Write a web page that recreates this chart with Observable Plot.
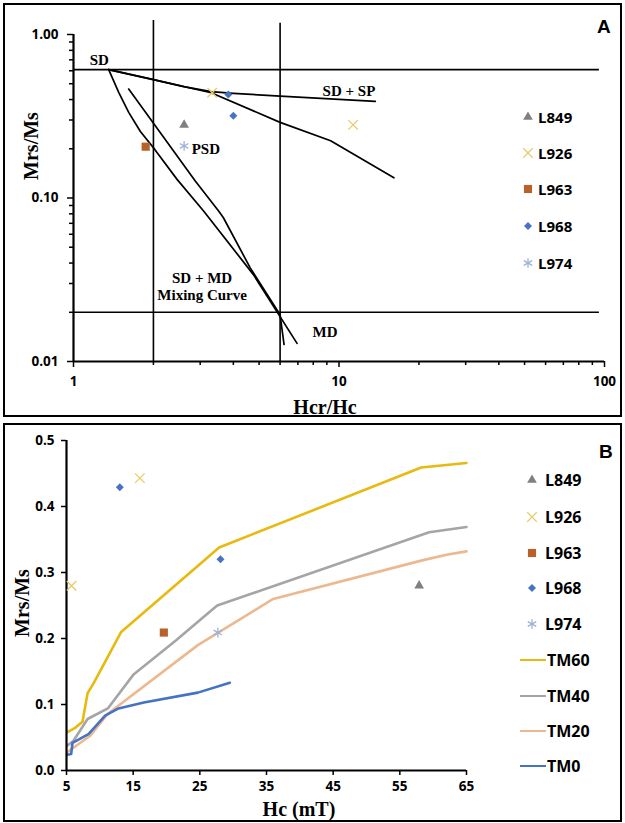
<!DOCTYPE html>
<html>
<head>
<meta charset="utf-8">
<script src="https://cdn.jsdelivr.net/npm/d3@7"></script>
<script src="https://cdn.jsdelivr.net/npm/@observablehq/plot@0.6"></script>
<style>
  body { margin: 0; background: #fff; }
  #wrap { position: relative; width: 625px; height: 823px; overflow: hidden; font-family: "Open Sans", sans-serif; }
  #wrap svg.plot { position: absolute; left: 0; }
  .box { position: absolute; border: 2.5px solid #000; box-sizing: border-box; pointer-events: none; }
  .abs { position: absolute; white-space: nowrap; line-height: 1; }
  .title { font-family: "Liberation Serif", "Times New Roman", serif; font-weight: bold; font-size: 20px; }
  .letter { font-family: "Liberation Sans", Arial, sans-serif; font-weight: bold; font-size: 19px; }
  .legtxt { position: absolute; font-family: "Open Sans", sans-serif; font-weight: 700; font-size: 15px; line-height: 1; white-space: nowrap; }
  .legsym { position: absolute; overflow: visible; }
</style>
</head>
<body>
<div id="wrap"></div>
<script>
// ---------- DATA ----------
const samples = ["L849", "L926", "L963", "L968", "L974"];
const sampleColors = ["#808080", "#e8ca6c", "#b8622a", "#4a72c4", "#9db3d8"];
const sampleSymbols = ["triangle", "times", "square", "diamond2", "asterisk"];

// Panel A: Day plot (Hcr/Hc vs Mrs/Ms)
const dayPoints = [
  {sample: "L849", hcrhc: 2.61, mrsms: 0.28},
  {sample: "L926", hcrhc: 3.33, mrsms: 0.44},
  {sample: "L926", hcrhc: 11.3, mrsms: 0.28},
  {sample: "L963", hcrhc: 1.87, mrsms: 0.206},
  {sample: "L968", hcrhc: 3.83, mrsms: 0.43},
  {sample: "L968", hcrhc: 4.0, mrsms: 0.318},
  {sample: "L974", hcrhc: 2.61, mrsms: 0.208}
];
const sdSpUpper = [[1.357, 0.61], [2.0, 0.53], [2.6, 0.48], [3.3, 0.447], [4.0, 0.437], [6.0, 0.42], [13.7, 0.39]];
const sdSpLower = [[1.357, 0.61], [2.0, 0.53], [3.3, 0.44], [6.0, 0.29], [9.3, 0.224], [16.1, 0.133]];
const mixCurve1 = [[1.357, 0.61], [1.48, 0.443], [1.614, 0.334], [1.786, 0.255], [2.02, 0.199], [2.455, 0.130], [3.09, 0.0832], [4.76, 0.034], [6.95, 0.0129]];
const mixCurve2 = [[1.614, 0.464], [2.875, 0.127], [3.52, 0.0832], [3.67, 0.0757], [4.63, 0.0374], [6.0, 0.0193], [6.21, 0.0127]];
const hLines = [{y: 0.61, xEnd: 95.7}, {y: 0.02, xEnd: 95.7}];
const vLines = [{x: 2, yTop: 1.22}, {x: 6, yTop: 1.17}];
const dayLabels = [
  {text: "SD", x: 1.25, y: 0.70},
  {text: "SD + SP", x: 10.9, y: 0.453},
  {text: "PSD", x: 3.15, y: 0.2},
  {text: "SD + MD\nMixing Curve", x: 3.05, y: 0.029},
  {text: "MD", x: 8.86, y: 0.0153}
];
const xTicksA = [1, 10, 100];
const xMinorA = [2, 3, 4, 5, 6, 7, 8, 9, 20, 30, 40, 50, 60, 70, 80, 90];
const yTicksA = [0.01, 0.1, 1];
const yMinorA = [0.02, 0.03, 0.04, 0.05, 0.06, 0.07, 0.08, 0.09, 0.2, 0.3, 0.4, 0.5, 0.6, 0.7, 0.8, 0.9];

// Panel B: Hc vs Mrs/Ms with TM curves
const hystPoints = [
  {sample: "L849", hc: 57.9, mrsms: 0.28},
  {sample: "L926", hc: 5.75, mrsms: 0.28},
  {sample: "L926", hc: 16.0, mrsms: 0.443},
  {sample: "L963", hc: 19.6, mrsms: 0.209},
  {sample: "L968", hc: 13.0, mrsms: 0.429},
  {sample: "L968", hc: 28.1, mrsms: 0.32},
  {sample: "L974", hc: 27.7, mrsms: 0.209}
];
const tmNames = ["TM60", "TM40", "TM20", "TM0"];
const tmColors = ["#e8b90f", "#a5a5a5", "#ecb88f", "#4472c4"];
const tm60 = [[5.15, 0.058], [6.35, 0.065], [7.4, 0.074], [8.16, 0.117], [9.06, 0.132], [13.2, 0.21], [27.9, 0.338], [58.2, 0.459], [65, 0.466]];
const tm40 = [[5.15, 0.038], [6.05, 0.045], [8.16, 0.078], [11.2, 0.094], [15.1, 0.146], [21.4, 0.197], [27.6, 0.25], [59.4, 0.361], [65, 0.369]];
const tm20 = [[5.15, 0.028], [8.6, 0.053], [11.2, 0.086], [24.7, 0.19], [36, 0.26], [58.2, 0.318], [62, 0.327], [65, 0.332]];
const tm0 = [[5.1, 0.024], [5.7, 0.025], [5.9, 0.042], [8.3, 0.055], [10.8, 0.083], [12.8, 0.094], [16.6, 0.103], [24.7, 0.118], [29.5, 0.133]];
const tmSeries = [tm60, tm40, tm20, tm0];
const xTicksB = [5, 15, 25, 35, 45, 55, 65];
const yTicksB = [0, 0.1, 0.2, 0.3, 0.4, 0.5];

// ---------- HELPERS ----------
const symbolSizes = {triangle: 3.6, times: 4.4, square: 4.6, diamond2: 3.6, asterisk: 4.6};
const strokeOnly = new Set(["times", "asterisk"]);
const d3Sym = {triangle: d3.symbolTriangle, times: d3.symbolTimes, square: d3.symbolSquare, diamond2: d3.symbolDiamond2, asterisk: d3.symbolAsterisk};

function dotMarks(data, xKey) {
  return samples.map((s, i) => {
    const sym = sampleSymbols[i];
    const opts = {x: xKey, y: "mrsms", symbol: sym, r: symbolSizes[sym]};
    if (strokeOnly.has(sym)) { opts.stroke = sampleColors[i]; opts.strokeWidth = 1.3; opts.fill = "none"; }
    else { opts.fill = sampleColors[i]; opts.stroke = "none"; }
    return Plot.dot(data.filter(d => d.sample === s), opts);
  });
}
const tickFont = {fontFamily: "Open Sans, sans-serif", fontWeight: 700, fontSize: 13.5, color: "#000"};

const wrap = document.getElementById("wrap");

// ---------- PANEL A ----------
const plotA = Plot.plot({
  width: 625, height: 400,
  marginLeft: 73, marginRight: 21, marginTop: 34, marginBottom: 39,
  x: {type: "log", domain: [1, 100], label: null},
  y: {type: "log", domain: [0.01, 1], label: null},
  style: {background: "transparent", overflow: "visible"},
  marks: [
    Plot.axisX(xMinorA, {tickSize: 4, tickFormat: () => "", strokeWidth: 1.5, label: null}),
    Plot.axisX(xTicksA, {tickSize: 6, tickPadding: 9, tickFormat: d => String(d), strokeWidth: 1.5, label: null, ...tickFont}),
    Plot.axisY(yMinorA, {tickSize: 4, tickFormat: () => "", strokeWidth: 1.5, label: null}),
    Plot.axisY(yTicksA, {tickSize: 6, tickPadding: 9, tickFormat: d => d.toFixed(2), strokeWidth: 1.5, label: null, ...tickFont}),
    Plot.ruleY(hLines, {y: "y", x1: () => 1, x2: "xEnd", stroke: "#000", strokeWidth: 1.6}),
    Plot.ruleX(vLines, {x: "x", y1: () => 0.01, y2: "yTop", stroke: "#000", strokeWidth: 1.6}),
    Plot.line(sdSpUpper, {stroke: "#000", strokeWidth: 1.7}),
    Plot.line(sdSpLower, {stroke: "#000", strokeWidth: 1.7}),
    Plot.line(mixCurve1, {stroke: "#000", strokeWidth: 1.7}),
    Plot.line(mixCurve2, {stroke: "#000", strokeWidth: 1.7}),
    Plot.ruleX([1], {stroke: "#000", strokeWidth: 2.2}),
    Plot.ruleY([0.01], {stroke: "#000", strokeWidth: 2.2}),
    ...dotMarks(dayPoints, "hcrhc"),
    Plot.text(dayLabels, {x: "x", y: "y", text: "text", fontFamily: "Liberation Serif, Times New Roman, serif", fontWeight: 700, fontSize: 15, lineHeight: 1.12, fill: "#000"})
  ]
});
plotA.classList.add("plot");
plotA.style.top = "0px";
wrap.appendChild(plotA);

// ---------- PANEL B ----------
const plotB = Plot.plot({
  width: 625, height: 399,
  marginLeft: 66, marginRight: 159, marginTop: 16, marginBottom: 53,
  x: {type: "linear", domain: [5, 65], label: null},
  y: {type: "linear", domain: [0, 0.5], label: null},
  style: {background: "transparent", overflow: "visible"},
  marks: [
    Plot.axisX(xTicksB, {tickSize: 5, tickPadding: 6, tickFormat: d => String(d), strokeWidth: 1.5, label: null, ...tickFont}),
    Plot.axisY(yTicksB, {tickSize: 5, tickPadding: 7, tickFormat: d => d.toFixed(1), strokeWidth: 1.5, label: null, ...tickFont}),
    ...tmSeries.map((s, i) => Plot.line(s, {stroke: tmColors[i], strokeWidth: 2.6})),
    Plot.ruleX([5], {stroke: "#000", strokeWidth: 2.2}),
    Plot.ruleY([0], {stroke: "#000", strokeWidth: 2.2}),
    ...dotMarks(hystPoints, "hc")
  ]
});
plotB.classList.add("plot");
plotB.style.top = "424px";
wrap.appendChild(plotB);

// ---------- BOXES, TITLES ----------
function addEl(cls, html, css) {
  const el = document.createElement("div");
  el.className = cls;
  el.innerHTML = html;
  Object.assign(el.style, css);
  wrap.appendChild(el);
  return el;
}
addEl("box", "", {left: "3px", top: "3px", width: "619px", height: "414px"});
addEl("box", "", {left: "3px", top: "423px", width: "619px", height: "399px"});
addEl("abs letter", "A", {left: "597px", top: "17px"});
addEl("abs letter", "B", {left: "599px", top: "442px"});
// axis titles
addEl("abs title", "Hcr/Hc", {left: "325px", top: "407px", transform: "translate(-50%,-50%)"});
addEl("abs title", "Hc (mT)", {left: "299px", top: "809px", transform: "translate(-50%,-50%)"});
addEl("abs title", "Mrs/Ms", {left: "31px", top: "146px", transform: "translate(-50%,-50%) rotate(-90deg)"});
addEl("abs title", "Mrs/Ms", {left: "22px", top: "603px", transform: "translate(-50%,-50%) rotate(-90deg)"});

// ---------- LEGENDS ----------
function symbolSwatch(sym, color, cx, cy) {
  const ns = "http://www.w3.org/2000/svg";
  const svg = document.createElementNS(ns, "svg");
  svg.setAttribute("class", "legsym");
  svg.setAttribute("width", 20); svg.setAttribute("height", 20);
  svg.style.left = (cx - 10) + "px"; svg.style.top = (cy - 10) + "px";
  const p = document.createElementNS(ns, "path");
  p.setAttribute("transform", "translate(10,10)");
  const r = symbolSizes[sym];
  p.setAttribute("d", d3.symbol(d3Sym[sym], Math.PI * r * r)());
  if (strokeOnly.has(sym)) { p.setAttribute("fill", "none"); p.setAttribute("stroke", color); p.setAttribute("stroke-width", 1.3); }
  else { p.setAttribute("fill", color); }
  svg.appendChild(p);
  wrap.appendChild(svg);
}
function lineSwatch(color, x1, x2, cy) {
  const el = document.createElement("div");
  Object.assign(el.style, {position: "absolute", left: x1 + "px", top: (cy - 1.3) + "px", width: (x2 - x1) + "px", height: "2.6px", background: color});
  wrap.appendChild(el);
}
function legText(txt, x, cy, size) {
  const el = addEl("legtxt", txt, {left: x + "px", top: cy + "px", transform: "translateY(-50%)", fontSize: size + "px"});
  return el;
}
const legARows = [117, 153, 189, 226, 263];
samples.forEach((s, i) => {
  symbolSwatch(sampleSymbols[i], sampleColors[i], 528, legARows[i]);
  legText(s, 538, legARows[i], 15);
});
const legBRows = [480, 517, 553, 588, 624, 660, 696, 731, 766];
samples.forEach((s, i) => {
  symbolSwatch(sampleSymbols[i], sampleColors[i], 532, legBRows[i]);
  legText(s, 545, legBRows[i], 16);
});
tmNames.forEach((t, i) => {
  lineSwatch(tmColors[i], 520, 546, legBRows[5 + i]);
  legText(t, 547, legBRows[5 + i], 16);
});
</script>
</body>
</html>
